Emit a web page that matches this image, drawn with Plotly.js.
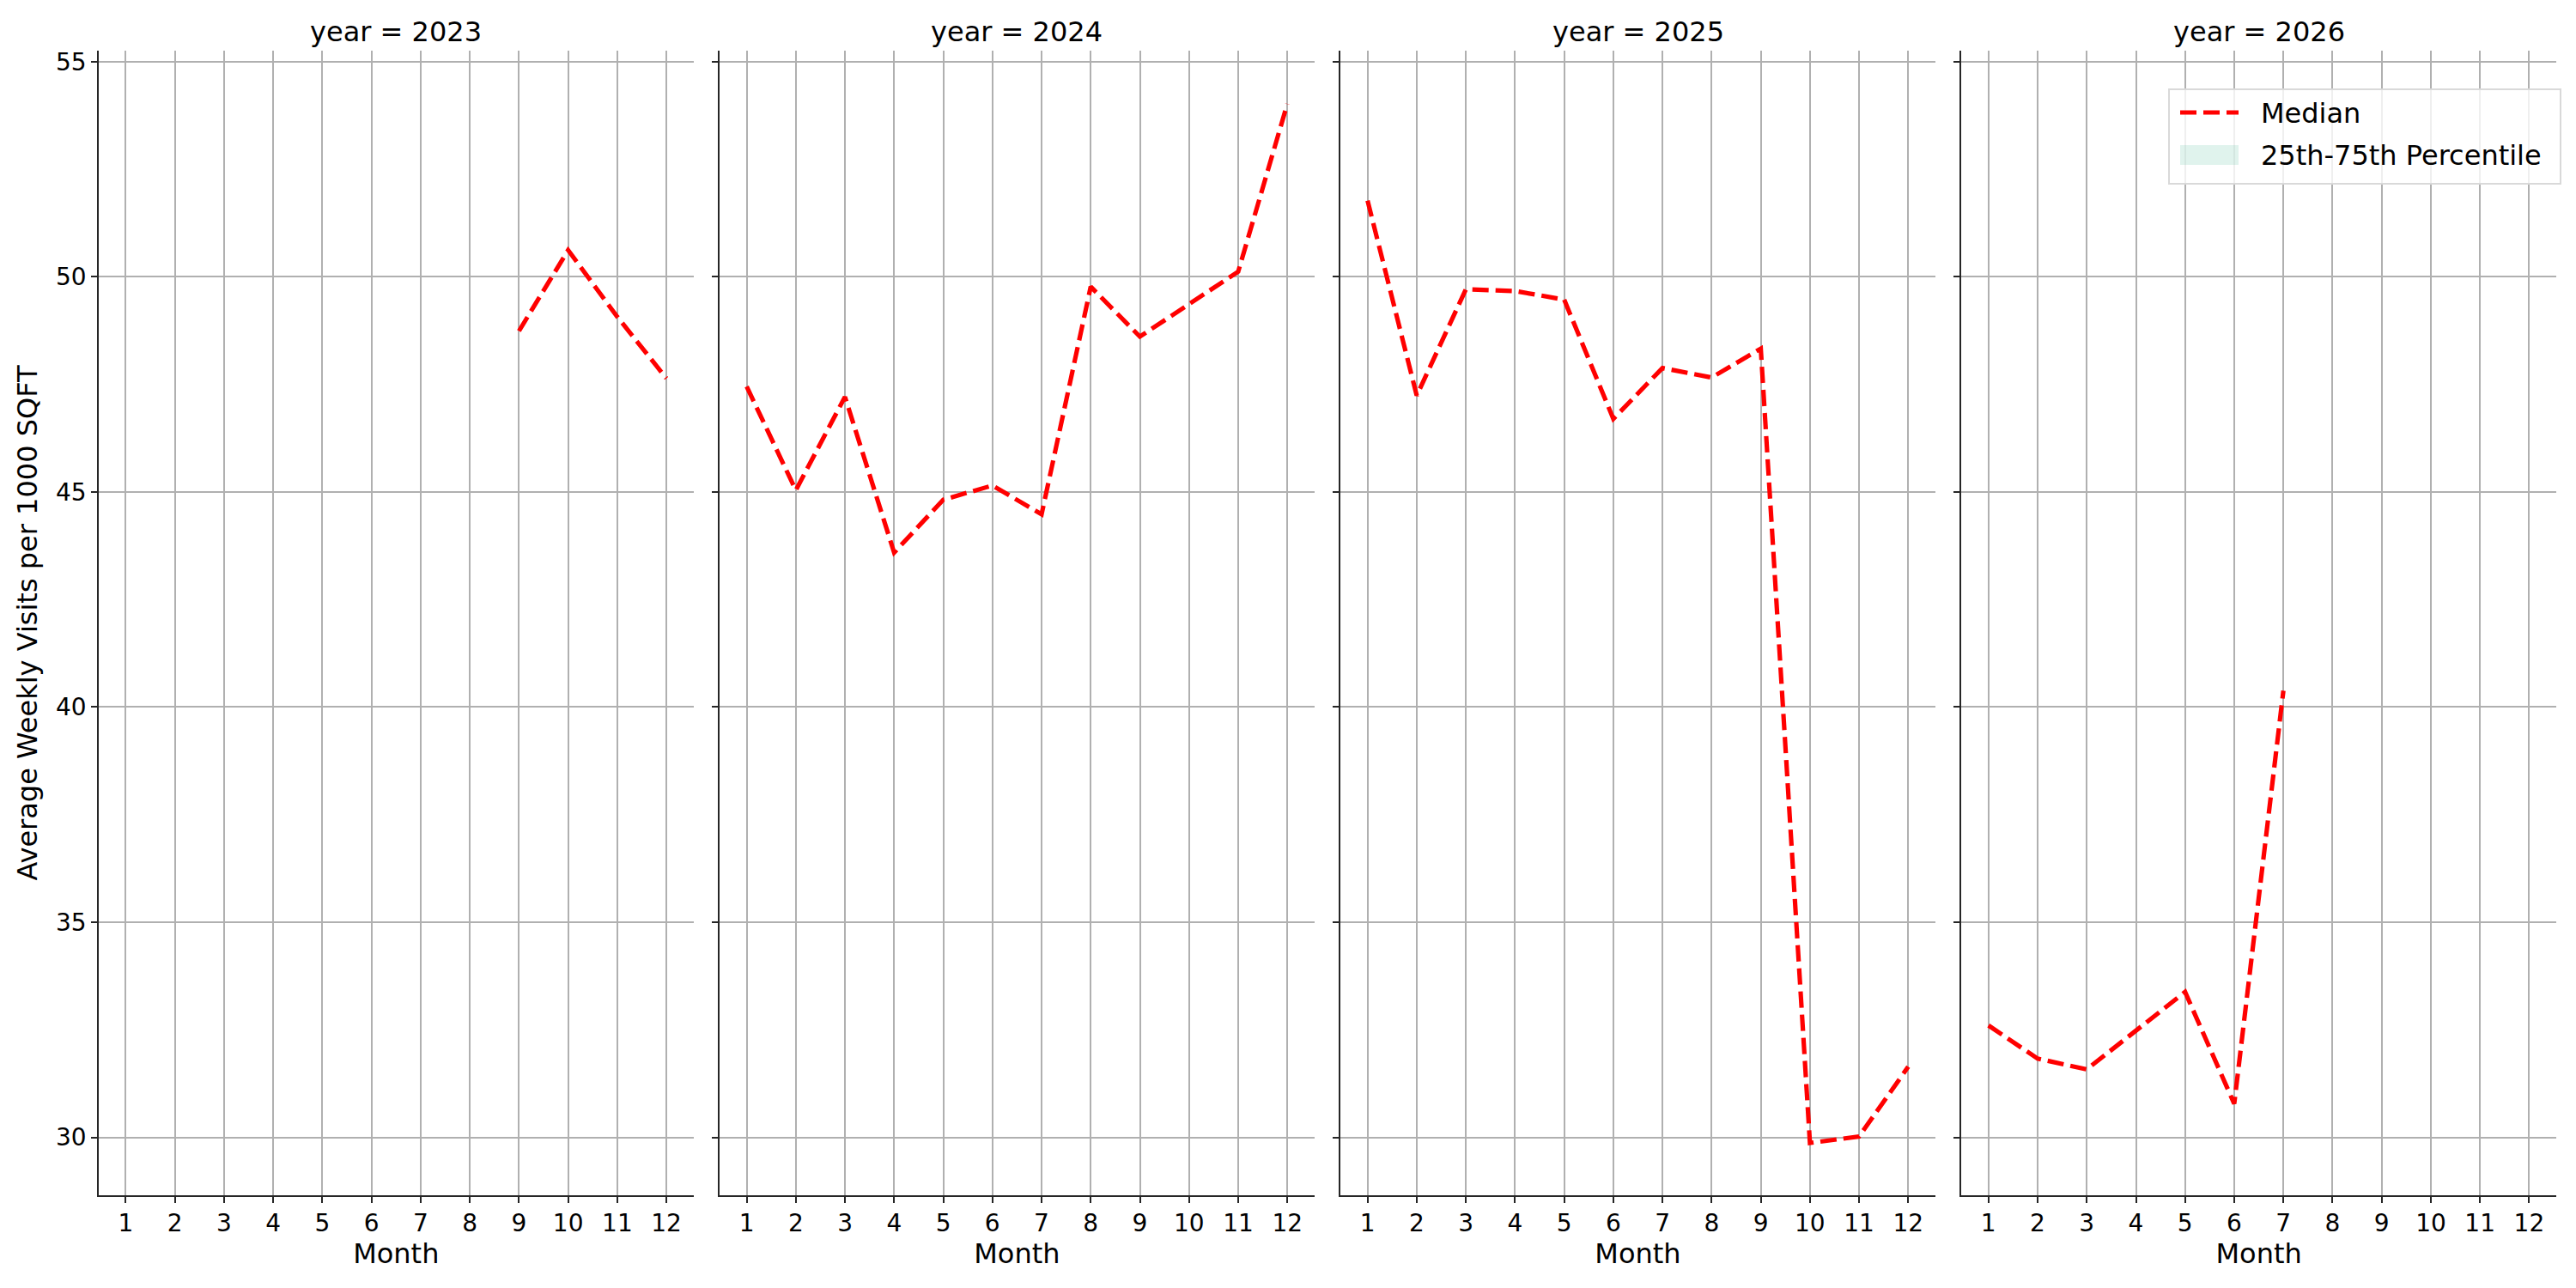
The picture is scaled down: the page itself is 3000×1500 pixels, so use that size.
<!DOCTYPE html>
<html>
<head>
<meta charset="utf-8">
<script src="https://cdn.plot.ly/plotly-3.0.1.min.js"></script>
<style>
  html, body { margin: 0; padding: 0; background: #ffffff; }
  #chart { width: 3000px; height: 1500px; }
</style>
</head>
<body>
<div id="chart"></div>
<script>
// Valores (mediana de visitas semanais por 1000 SQFT)
const years = [2023, 2024, 2025, 2026];

const months2023 = [9, 10, 11, 12];
const median2023 = [48.74, 50.62, 49.07, 47.64];

const months2024 = [1, 2, 3, 4, 5, 6, 7, 8, 9, 10, 11, 12];
const median2024 = [47.45, 45.04, 47.21, 43.59, 44.82, 45.15, 44.48, 49.77, 48.61, 49.36, 50.12, 54.02];

const months2025 = [1, 2, 3, 4, 5, 6, 7, 8, 9, 10, 11, 12];
const median2025 = [51.77, 47.24, 49.71, 49.67, 49.47, 46.70, 47.88, 47.66, 48.33, 29.87, 30.02, 31.64];

const months2026 = [1, 2, 3, 4, 5, 6, 7];
const median2026 = [32.60, 31.83, 31.58, 32.48, 33.38, 30.78, 40.38];

const monthTicks = [1, 2, 3, 4, 5, 6, 7, 8, 9, 10, 11, 12];
const valueTicks = [30, 35, 40, 45, 50, 55];

const legendLabels = ['Median', '25th-75th Percentile'];

const seriesMonths = [months2023, months2024, months2025, months2026];
const seriesMedian = [median2023, median2024, median2025, median2026];

const FONT = 'DejaVu Sans, Verdana, sans-serif';
const W = 3000;
const H = 1500;
const RED = '#ff0000';
const BAND = 'rgba(102,194,165,0.2)';

// Converte pixels da figura para fração do papel
const px = (v) => v / W;
const py = (v) => 1 - v / H;

// Posição de cada painel (pixels da figura)
const panelPx = [
  [115, 807.6],
  [838.1, 1530.7],
  [1561.2, 2253.8],
  [2284.3, 2976.9]
];
const yDomain = [py(1391.7), py(59.3)];

const buildTraces = () => {
  return years.map((year, i) => {
    const suffix = i === 0 ? '' : String(i + 1);
    return {
      x: seriesMonths[i],
      y: seriesMedian[i],
      xaxis: 'x' + suffix,
      yaxis: 'y' + suffix,
      type: 'scatter',
      mode: 'lines',
      name: legendLabels[0],
      showlegend: false,
      line: { color: RED, width: 5.2, dash: '19px,8px' },
      hoverinfo: 'x+y'
    };
  });
};

// Legenda no estilo matplotlib (caixa no canto superior direito do último painel)
const buildLegend = () => {
  const shapes = [
    {
      type: 'rect', xref: 'paper', yref: 'paper', layer: 'above',
      x0: px(2526), x1: px(2982), y0: py(214), y1: py(104),
      fillcolor: 'rgba(255,255,255,0.8)',
      line: { color: '#d9d9d9', width: 2 }
    },
    {
      type: 'line', xref: 'paper', yref: 'paper', layer: 'above',
      x0: px(2539), x1: px(2607), y0: py(131), y1: py(131),
      line: { color: RED, width: 5.2, dash: '19px,8px' }
    },
    {
      type: 'rect', xref: 'paper', yref: 'paper', layer: 'above',
      x0: px(2539), x1: px(2607), y0: py(192), y1: py(169),
      fillcolor: BAND,
      line: { width: 0 }
    }
  ];
  const annotations = legendLabels.map((label, i) => ({
    text: label,
    xref: 'paper', yref: 'paper',
    x: px(2631), y: py(i === 0 ? 132 : 181),
    xanchor: 'left', yanchor: 'middle',
    showarrow: false,
    font: { family: FONT, size: 32, color: '#000000' }
  }));
  return { shapes, annotations };
};

const axisCommon = {
  ticks: 'outside',
  ticklen: 7,
  tickwidth: 1.7,
  tickcolor: '#262626',
  tickfont: { family: FONT, size: 28, color: '#000000' },
  showline: true,
  linecolor: '#262626',
  linewidth: 1.7,
  mirror: false,
  showgrid: true,
  gridcolor: '#b0b0b0',
  zeroline: false
};

const buildLayout = () => {
  const legend = buildLegend();
  const layout = {
    width: W,
    height: H,
    paper_bgcolor: '#ffffff',
    plot_bgcolor: '#ffffff',
    margin: { t: 0, r: 0, b: 0, l: 0 },
    font: { family: FONT, size: 28, color: '#000000' },
    showlegend: false,
    shapes: legend.shapes,
    annotations: legend.annotations.slice(),
    hovermode: 'closest'
  };

  years.forEach((year, i) => {
    const suffix = i === 0 ? '' : String(i + 1);
    const dom = [px(panelPx[i][0]), px(panelPx[i][1])];

    layout['xaxis' + suffix] = Object.assign({}, axisCommon, {
      domain: dom,
      anchor: 'y' + suffix,
      range: [0.45, 12.55],
      tickmode: 'array',
      tickvals: monthTicks,
      ticktext: monthTicks.map(String),
      gridwidth: 1.6,
      title: { text: 'Month', font: { family: FONT, size: 32, color: '#000000' }, standoff: 8 }
    });

    layout['yaxis' + suffix] = Object.assign({}, axisCommon, {
      domain: yDomain,
      anchor: 'x' + suffix,
      range: [28.66, 55.25],
      tickmode: 'array',
      tickvals: valueTicks,
      ticktext: valueTicks.map(String),
      showticklabels: i === 0,
      gridwidth: 2.1,
      title: i === 0
        ? { text: 'Average Weekly Visits per 1000 SQFT', font: { family: FONT, size: 32, color: '#000000' }, standoff: 12 }
        : { text: '' }
    });

    layout.annotations.push({
      text: 'year = ' + year,
      xref: 'paper',
      yref: 'paper',
      x: (dom[0] + dom[1]) / 2,
      y: py(37),
      xanchor: 'center',
      yanchor: 'middle',
      showarrow: false,
      font: { family: FONT, size: 32, color: '#000000' }
    });
  });

  return layout;
};

Plotly.newPlot('chart', buildTraces(), buildLayout(), {
  displayModeBar: false,
  responsive: false
});
</script>
</body>
</html>
